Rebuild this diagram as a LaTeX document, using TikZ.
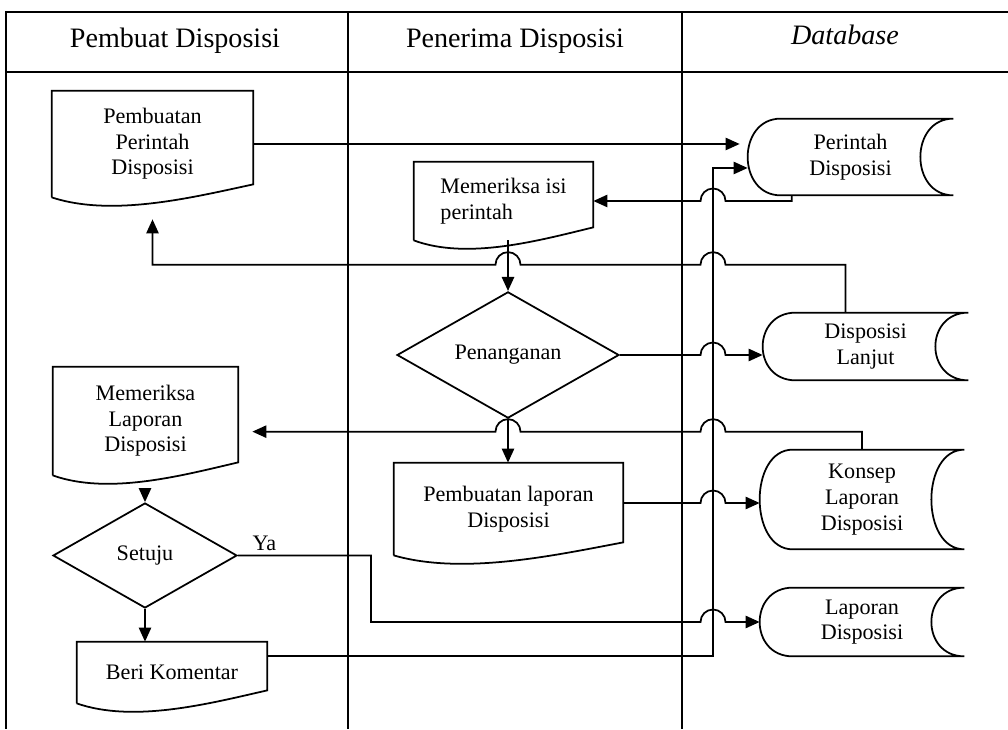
\documentclass[tikz,border=0pt]{standalone}
\usepackage{fontspec}
\setmainfont{Liberation Serif}
\usepackage{tikz}
\usetikzlibrary{shapes,arrows.meta,positioning,calc}

\tikzset{
  frame/.style={line width=1.5pt},
  outline/.style={line width=1pt},
  flow/.style={line width=1pt},
  arr/.style={flow, -{Triangle[length=8pt,width=7pt]}},
  lanehead/.style={font=\fontsize{16}{19}\selectfont},
  txt/.style={font=\fontsize{12.6}{14.6}\selectfont, align=center, inner sep=0pt},
  docbox/.style={txt, rectangle},
  dbbox/.style={txt, rectangle},
  decision/.style={txt, diamond, draw, outline}
}

% document box with wavy bottom
\newcommand{\docshape}[1]{%
  \draw[outline] (#1.south west) -- (#1.north west) -- (#1.north east) -- ([yshift=0.26cm]#1.south east)
    .. controls ($(#1.south west)!0.7!(#1.south east)$) and ($(#1.south west)!0.3!(#1.south east)+(0,-0.4)$) .. (#1.south west);}
% stored data box
\newcommand{\dbshape}[1]{%
  \draw[outline] ([xshift=0.66cm]#1.north west) -- (#1.north east)
    .. controls ([xshift=-0.88cm]#1.north east) and ([xshift=-0.88cm]#1.south east) .. (#1.south east)
    -- ([xshift=0.66cm]#1.south west)
    .. controls ([xshift=-0.22cm]#1.south west) and ([xshift=-0.22cm]#1.north west) .. ([xshift=0.66cm]#1.north west);}

\begin{document}
\begin{tikzpicture}
  \useasboundingbox (0,0) rectangle (20.16,14.58);
  \def\hr{0.25}

  % lanes
  \draw[frame] (20.16,14.34) -- (0.12,14.34) -- (0.12,0);
  \draw[frame] (0.12,13.14) -- (20.16,13.14);
  \draw[frame] (6.96,14.34) -- (6.96,0);
  \draw[frame] (13.64,14.34) -- (13.64,0);
  \node[lanehead] (lane1) at (3.5,13.76) {Pembuat Disposisi};
  \node[lanehead] (lane2) at (10.3,13.76) {Penerima Disposisi};
  \node[lanehead] (lane3) at (16.9,13.88) {\textit{Database}};

  % pembuat disposisi
  \node[docbox, minimum width=4.02cm, minimum height=2.12cm] (pp) at (3.05,11.70) {Pembuatan\\Perintah\\Disposisi};
  \node[docbox, minimum width=3.70cm, minimum height=2.16cm] (ml) at (2.91,6.16) {Memeriksa\\Laporan\\Disposisi};
  \node[decision, minimum width=3.68cm, minimum height=2.10cm] (st) at (2.90,3.47) {Setuju};
  \node[docbox, minimum width=3.80cm, minimum height=1.22cm] (bk) at (3.44,1.13) {Beri Komentar};

  % penerima disposisi
  \node[docbox, align=left, minimum width=3.58cm, minimum height=1.56cm] (mi) at (10.07,10.56) {Memeriksa isi\\perintah};
  \node[decision, minimum width=4.44cm, minimum height=2.40cm] (pn) at (10.16,7.48) {Penanganan};
  \node[docbox, minimum width=4.58cm, minimum height=1.84cm] (pl) at (10.17,4.40) {Pembuatan laporan\\Disposisi};

  % database
  \node[dbbox, minimum width=4.10cm, minimum height=1.52cm] (pd) at (17.01,11.44) {Perintah\\Disposisi};
  \node[dbbox, minimum width=4.10cm, minimum height=1.34cm] (dl) at (17.31,7.65) {Disposisi\\Lanjut};
  \node[dbbox, minimum width=4.08cm, minimum height=1.98cm] (kl) at (17.24,4.59) {Konsep\\Laporan\\Disposisi};
  \node[dbbox, minimum width=4.08cm, minimum height=1.36cm] (ld) at (17.24,2.14) {Laporan\\Disposisi};

  \docshape{pp} \docshape{ml} \docshape{bk} \docshape{mi} \docshape{pl}
  \dbshape{pd} \dbshape{dl} \dbshape{kl} \dbshape{ld}

  % return line from beri komentar
  \coordinate (bus) at (14.26,11.22);

  % connectors
  \draw[arr] (pp.east) -- ($(pp.east -| pd.west)+(-0.16,0)$);
  \draw[arr] ([xshift=0.88cm]pd.south west) |- ($(bus |- mi.east)+(\hr,0)$)
    arc[start angle=0,end angle=180,radius=\hr] -- (mi.east);
  \draw[arr] ([xshift=-0.4cm]dl.north) -- ++(0,0.96) coordinate (r1)
    -- ($(bus |- r1)+(\hr,0)$) arc[start angle=0,end angle=180,radius=\hr]
    -- ($(pn.north |- r1)+(\hr,0)$) arc[start angle=0,end angle=180,radius=\hr]
    -- (pp.south |- r1) -- ([yshift=-0.44cm]pp.south);
  \draw[arr] (pn.north |- mi.south) -- (pn.north);
  \draw[arr] (pn.east) -- ($(bus |- pn.east)+(-\hr,0)$)
    arc[start angle=180,end angle=0,radius=\hr] -- (pn.east -| dl.west);
  \draw[arr] (kl.north) -- ++(0,0.36) coordinate (r2)
    -- ($(bus |- r2)+(\hr,0)$) arc[start angle=0,end angle=180,radius=\hr]
    -- ($(pn.south |- r2)+(\hr,0)$) arc[start angle=0,end angle=180,radius=\hr]
    -- ($(ml.east |- r2)+(0.28,0)$);
  \draw[arr] (pn.south) -- (pn.south |- pl.north);
  \draw[arr] ([yshift=0.12cm]pl.east) coordinate (h0) -- ($(bus |- h0)+(-\hr,0)$)
    arc[start angle=180,end angle=0,radius=\hr] -- (h0 -| kl.west);
  \draw[arr] ($(st.north |- ml.south)+(0,-0.3)$) -- (st.north);
  \draw[arr] (st.east) -- node[txt, pos=0.2, above=2pt] {Ya} ++(2.66,0)
    |- ($(bus |- ld.west)+(-\hr,0)$) arc[start angle=180,end angle=0,radius=\hr] -- (ld.west);
  \draw[arr] (st.south) -- (st.south |- bk.north);
  \draw[arr] ([yshift=0.33cm]bk.east) -| (bus) -- (bus -| pd.west);
\end{tikzpicture}
\end{document}
